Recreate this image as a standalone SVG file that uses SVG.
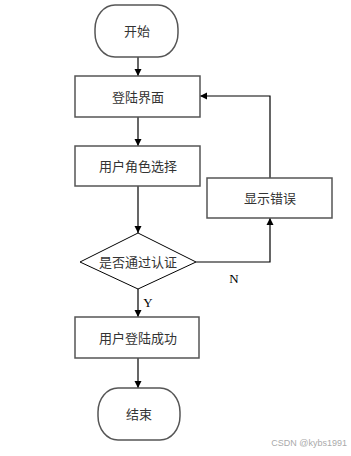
<svg xmlns="http://www.w3.org/2000/svg" width="351" height="456" viewBox="0 0 351 456">
<defs>
<marker id="ah" viewBox="0 0 10 10" refX="10" refY="5" markerWidth="7" markerHeight="9" markerUnits="userSpaceOnUse" orient="auto">
<path d="M0,0 L10,5 L0,10 z" fill="#000"/>
</marker>
<style>
.shape{fill:#fff;stroke:#555;stroke-width:1.5}
.lbl{font-family:"Liberation Serif","Noto Sans CJK SC",serif;font-size:13px;fill:#333;text-anchor:middle;dominant-baseline:central}
.yn{font-family:"Liberation Serif",serif;font-size:13px;fill:#000;text-anchor:middle;dominant-baseline:central}
.edge{fill:none;stroke:#000;stroke-width:1.2;marker-end:url(#ah)}
</style>
</defs>
<rect width="351" height="456" fill="#fff"/>
<g id="connectors">
<line class="edge" x1="138" y1="57" x2="138" y2="76"/>
<line class="edge" x1="138" y1="117" x2="138" y2="146"/>
<line class="edge" x1="138" y1="186" x2="138" y2="233"/>
<line class="edge" x1="138" y1="289" x2="138" y2="317"/>
<line class="edge" x1="138" y1="358" x2="138" y2="388"/>
<polyline class="edge" points="196,262 270,262 270,218"/>
<polyline class="edge" points="270,178 270,96 200,96"/>
<text class="yn" x="148" y="302">Y</text>
<text class="yn" x="234" y="278">N</text>
</g>
<g id="start">
<rect class="shape" x="95" y="5" width="83" height="52" rx="20" ry="24"/>
<text class="lbl" x="137" y="31">开始</text>
</g>
<g id="login">
<rect class="shape" x="75" y="76" width="125" height="41"/>
<text class="lbl" x="138" y="97">登陆界面</text>
</g>
<g id="role">
<rect class="shape" x="75" y="146" width="125" height="40"/>
<text class="lbl" x="138" y="166">用户角色选择</text>
</g>
<g id="check">
<polygon class="shape" points="138,233 196,262 138,289 80,262" style="stroke:#000;stroke-width:1"/>
<text class="lbl" x="138" y="262">是否通过认证</text>
</g>
<g id="error">
<rect class="shape" x="207" y="178" width="125" height="40"/>
<text class="lbl" x="270" y="198">显示错误</text>
</g>
<g id="success">
<rect class="shape" x="75" y="317" width="124" height="41"/>
<text class="lbl" x="138" y="338">用户登陆成功</text>
</g>
<g id="end">
<rect class="shape" x="98" y="388" width="82" height="52" rx="20" ry="24"/>
<text class="lbl" x="139" y="414">结束</text>
</g>
<text x="347" y="446" style="font-family:'Liberation Sans',sans-serif;font-size:9px;fill:#aaa;text-anchor:end">CSDN @kybs1991</text>
</svg>
